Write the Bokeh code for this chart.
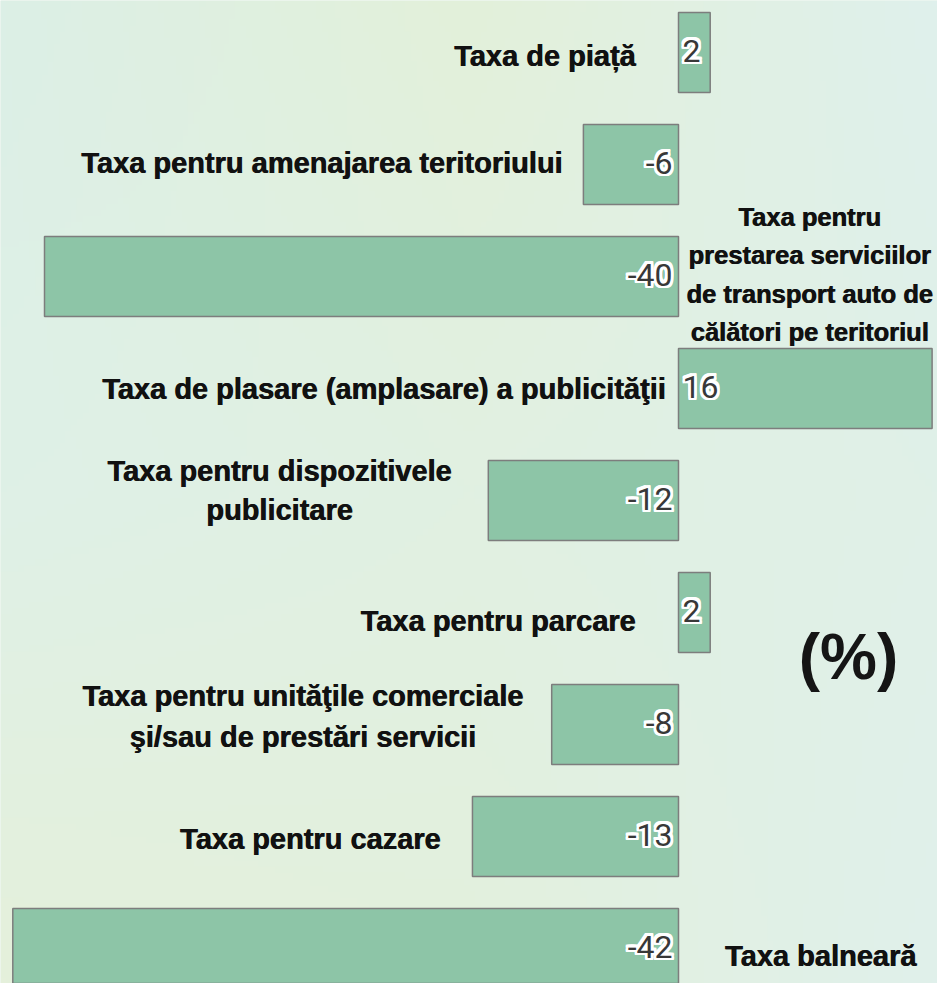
import numpy as np
from bokeh.plotting import figure
from bokeh.models import Range1d, Label
from bokeh.core.properties import value
from bokeh.embed import file_html
from bokeh.resources import INLINE

# ---- data ----
categories = [
    "Taxa de piață",
    "Taxa pentru amenajarea teritoriului",
    "Taxa pentru\nprestarea serviciilor\nde transport auto de\ncălători pe teritoriul",
    "Taxa de plasare (amplasare) a publicităţii",
    "Taxa pentru dispozitivele\npublicitare",
    "Taxa pentru parcare",
    "Taxa pentru unităţile comerciale\nşi/sau de prestări servicii",
    "Taxa pentru cazare",
    "Taxa balneară",
]
values = [2, -6, -40, 16, -12, 2, -8, -13, -42]
unit_label = "(%)"

# ---- layout of category labels (style, not data) ----
# side: "bar" -> anchored at bar's left end, "zero" -> anchored at zero line
label_side = ["zero", "bar", "zero", "zero", "bar", "zero", "bar", "bar", "zero"]
label_align = ["right", "right", "center", "right", "center", "right", "center", "right", "center"]
label_dx = [-43, -21, 131, -13, -209, -43, -249, -32, 142]
label_dy = [3, -2, -2, 0, -10, 8, -8, 2, 7]
label_size = ["29px", "29px", "25.5px", "29px", "29px", "29px", "29px", "29px", "29px"]
label_lh = [1.2, 1.2, 1.38, 1.2, 1.22, 1.2, 1.28, 1.2, 1.2]

W, H = 937, 983
PX_PER_UNIT = 15.85
ZERO_PX = 678          # zero line, pixels from plot left
ROW_PX = 112           # row spacing
TOP_PX = 52            # first bar center from plot top
BAR_PX = 80

n = len(categories)
rows = [n - 1 - i for i in range(n)]

x0 = -ZERO_PX / PX_PER_UNIT
x1 = (W - ZERO_PX) / PX_PER_UNIT
y_top = (n - 1) + TOP_PX / ROW_PX
y_bot = y_top - H / ROW_PX

p = figure(width=W, height=H, output_backend="svg", toolbar_location=None,
           x_range=Range1d(x0, x1), y_range=Range1d(y_bot, y_top),
           min_border=0)
p.axis.visible = False
p.grid.visible = False
p.outline_line_color = None
p.background_fill_color = "#e0f0e4"
p.border_fill_color = "#e0f0e4"

# ---- soft background gradient ----
ctrl = np.array([
    [[0xdc, 0xef, 0xe6], [0xe3, 0xf1, 0xda], [0xdf, 0xf0, 0xec]],
    [[0xdf, 0xf1, 0xe7], [0xe1, 0xf0, 0xe2], [0xe0, 0xf0, 0xe8]],
    [[0xe5, 0xf0, 0xdb], [0xe3, 0xf0, 0xdd], [0xe0, 0xf0, 0xeb]],
], dtype=float)
GH, GW = 160, 160
gy = np.linspace(0, 2, GH)
gx = np.linspace(0, 2, GW)
img = np.zeros((GH, GW, 4), dtype=np.uint8)
for c in range(3):
    tmp = np.array([np.interp(gx, [0, 1, 2], ctrl[r, :, c]) for r in range(3)])  # 3 x GW
    full = np.array([np.interp(gy, [0, 1, 2], tmp[:, j]) for j in range(GW)]).T  # GH x GW
    img[:, :, c] = full.astype(np.uint8)
img[:, :, 3] = 255
img = img[::-1].copy()  # row 0 = bottom
p.image_rgba(image=[img.view(np.uint32).reshape(GH, GW)], x=x0, y=y_bot,
             dw=x1 - x0, dh=y_top - y_bot)

# ---- bars ----
p.hbar(y=rows, left=0, right=values, height=BAR_PX / ROW_PX,
       fill_color="#8dc5a7", line_color="#7d7d7d", line_width=1.5)

# ---- category labels (drawn twice, slightly offset, for a heavier look) ----
for i, (cat, v) in enumerate(zip(categories, values)):
    ax = min(v, 0) if label_side[i] == "bar" else 0
    for extra in (0.0, 0.7):
        p.text(x=[ax], y=[rows[i]], text=[cat], x_offset=label_dx[i] + extra,
               y_offset=label_dy[i],
               text_align=label_align[i], text_baseline="middle",
               text_font=value("Liberation Sans"), text_font_style="bold",
               text_font_size=label_size[i], text_color="#111111",
               text_line_height=label_lh[i])

# ---- value labels with white outline ----
val_text = [str(v) for v in values]
val_align = ["left" if v > 0 else "right" for v in values]
val_dx = [4 if v > 0 else -6 for v in values]
ring = [(dx, dy) for dx in (-2.5, -1.5, 0, 1.5, 2.5) for dy in (-2.5, -1.5, 0, 1.5, 2.5)
        if (dx, dy) != (0, 0)]
for (ox, oy) in ring + [(0, 0)]:
    for i in range(n):
        p.text(x=[0], y=[rows[i]], text=[val_text[i]],
               x_offset=val_dx[i] + ox, y_offset=-2 + oy,
               text_align=val_align[i], text_baseline="middle",
               text_font=value("Roboto"), text_font_size="32px",
               text_color="#383838" if (ox, oy) == (0, 0) else "white")

# ---- unit label ----
p.add_layout(Label(x=0, y=rows[5] - 0.40, x_offset=170, text=unit_label,
                   text_align="center", text_baseline="middle",
                   text_font="Liberation Sans", text_font_style="bold",
                   text_font_size="64px", text_color="#151515"))

open("out.html", "w").write(file_html(p, INLINE))
